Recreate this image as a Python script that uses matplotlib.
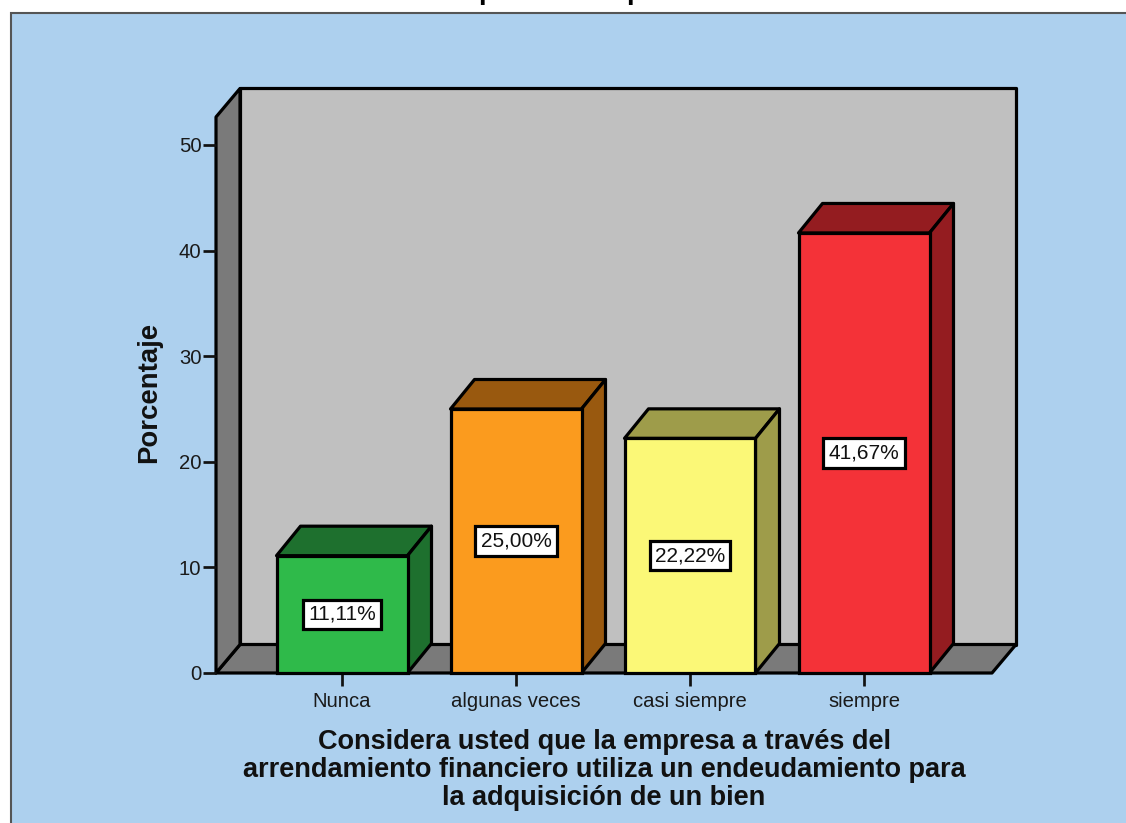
import matplotlib
matplotlib.use('Agg')
import matplotlib.pyplot as plt
from matplotlib.patches import Polygon, Rectangle

categories = ['Nunca', 'algunas veces', 'casi siempre', 'siempre']
values = [11.11, 25.00, 22.22, 41.67]
value_labels = ['11,11%', '25,00%', '22,22%', '41,67%']
y_ticks = [0, 10, 20, 30, 40, 50]
front_colors = ['#2FBA4A', '#FB9B1E', '#FBF877', '#F43238']
dark_colors = ['#1E702E', '#99590F', '#9E9C4A', '#941C20']
axis_title = ('Considera usted que la empresa a través del\n'
              'arrendamiento financiero utiliza un endeudamiento para\n'
              'la adquisición de un bien')

plt.rcParams['font.family'] = ['Liberation Sans', 'DejaVu Sans']

W, H = 1126, 823
LW = 2.3
fig = plt.figure(figsize=(W / 100, H / 100), dpi=100, facecolor='white')

# blue panel, runs off the right and bottom of the picture
fig.patches.append(Rectangle((11 / W, -0.1), 1.1, 1.1 - 13 / H, transform=fig.transFigure,
                             facecolor='#ADD0EE', edgecolor='#555555', linewidth=1.5, zorder=-5))

# title is cut off by the top edge, only the descenders show
fig.text(478 / W, 1 + 1 / H, 'p', fontsize=20, fontweight='bold', va='baseline', ha='left')
fig.text(626 / W, 1 + 1 / H, 'p', fontsize=20, fontweight='bold', va='baseline', ha='left')

ax = fig.add_axes([216 / W, 1 - 673 / H, 776 / W, 556 / H])
ax.patch.set_visible(False)
for s in ax.spines.values():
    s.set_visible(False)

ax.set_xlim(-126 / 174, 650 / 174)
ax.set_ylim(0, 556 / 10.56)

# depth of the 3d box and of the bars
dx, dy = 24 / 174, 28.5 / 10.56
bdx, bdy = 24 / 174, 29.5 / 10.56
x0, x1 = ax.get_xlim()
y1 = ax.get_ylim()[1]

wall = dict(edgecolor='black', linewidth=LW, joinstyle='round', clip_on=False)
ax.add_patch(Polygon([(x0 + dx, dy), (x1 + dx, dy), (x1 + dx, y1 + dy), (x0 + dx, y1 + dy)],
                     facecolor='#C0C0C0', zorder=1, **wall))
ax.add_patch(Polygon([(x0, 0), (x1, 0), (x1 + dx, dy), (x0 + dx, dy)],
                     facecolor='#7A7A7A', zorder=1, **wall))
ax.add_patch(Polygon([(x0, 0), (x0 + dx, dy), (x0 + dx, y1 + dy), (x0, y1)],
                     facecolor='#7A7A7A', zorder=1, **wall))

bar_w = 131 / 174
for i, v in enumerate(values):
    l, r = i - bar_w / 2, i + bar_w / 2
    ax.bar(i, v, width=bar_w, color=front_colors[i], edgecolor='black', linewidth=LW, zorder=3, clip_on=False)
    ax.add_patch(Polygon([(l, v), (r, v), (r + bdx, v + bdy), (l + bdx, v + bdy)],
                         facecolor=dark_colors[i], zorder=2, **wall))
    ax.add_patch(Polygon([(r, 0), (r + bdx, bdy), (r + bdx, v + bdy), (r, v)],
                         facecolor=dark_colors[i], zorder=2, **wall))
    ax.text(i, v / 2, value_labels[i], ha='center', va='center', fontsize=15, color='#111111', zorder=5,
            bbox=dict(boxstyle='square,pad=0.25', facecolor='white', edgecolor='black', linewidth=LW))

ax.set_yticks(y_ticks)
ax.set_xticks(range(len(categories)))
ax.set_xticklabels(categories)
ax.tick_params(axis='both', length=9.5, width=LW * 0.85, color='#111111', labelsize=14.6, labelcolor='#1A1A1A')
ax.tick_params(axis='y', pad=1)
ax.tick_params(axis='x', pad=4.5)

fig.text(149 / W, 1 - 392 / H, 'Porcentaje', rotation=90, ha='center', va='center',
         fontsize=19.8, fontweight='bold', color='#111111')
fig.text(604 / W, 1 - 770 / H, axis_title, ha='center', va='center', fontsize=19.5,
         fontweight='bold', color='#111111', linespacing=1.1)

fig.savefig('out.png', dpi=100)
